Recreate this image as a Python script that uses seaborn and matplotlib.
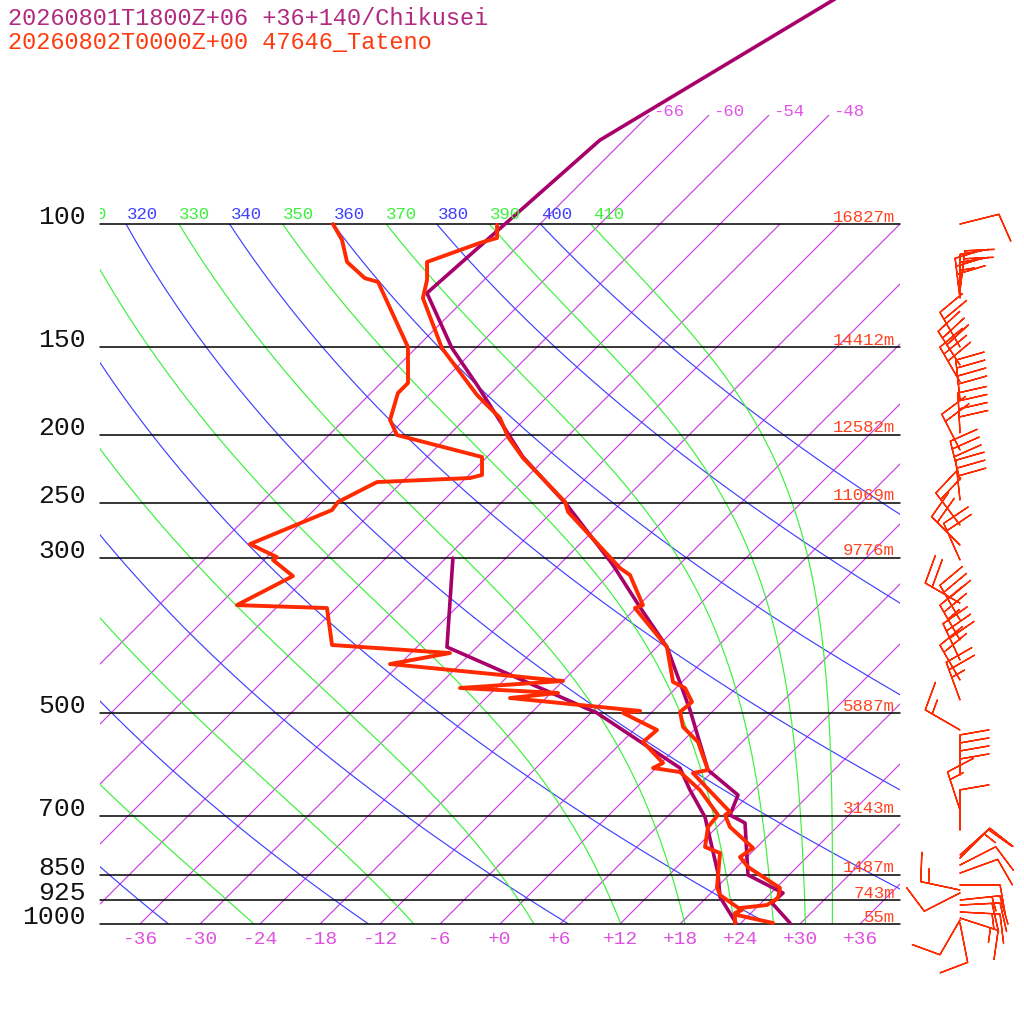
import numpy as np
import pandas as pd
import matplotlib
matplotlib.use("Agg")
import matplotlib.pyplot as plt
import seaborn as sns
from matplotlib.patches import Rectangle
from matplotlib.transforms import Bbox, TransformedBbox


# ── Sounding data (hPa, degC) ────────────────────────────────────────────────
chik_temp_p = [45.6, 75.9, 125.5, 150.4, 169.8, 198.2, 215.2, 252.0, 307.0, 352.6,
               402.1, 494.6, 602.6, 654.2, 698.7, 717.3, 851.1, 903.0, 933.3, 996.7]
chik_temp_t = [-58.1, -68.4, -70.4, -62.4, -56.2, -48.5, -44.4, -35.2, -24.6, -17.7,
               -11.0, -2.4, 5.4, 10.9, 12.1, 14.4, 19.9, 25.2, 25.1, 28.9]

chik_dewp_p = [300.1, 402.1, 499.5, 598.6, 643.6, 703.3, 845.7, 915.0, 996.7]
chik_dewp_t = [-41.3, -33.0, -11.4, 2.4, 5.6, 9.8, 16.7, 19.3, 23.5]

tate_temp_p = [100.3, 104.7, 106.4, 113.3, 120.2, 127.6, 150.4, 175.5, 189.3, 201.5,
               215.9, 249.5, 257.8, 310.1, 317.3, 350.3, 353.7, 402.1, 451.1, 460.1,
               481.8, 497.8, 523.0, 549.5, 602.6, 608.6, 639.3, 691.8, 698.7, 726.8,
               778.8, 802.2, 829.0, 888.3, 918.0, 939.5, 948.8, 970.8, 996.7]
tate_temp_t = [-70.2, -68.9, -70.1, -73.5, -71.7, -70.3, -63.4, -55.2, -50.6, -47.9,
               -44.3, -35.7, -34.4, -23.6, -21.9, -17.6, -18.1, -11.0, -6.9, -5.1,
               -3.0, -3.2, -1.4, 1.6, 5.4, 4.2, 7.1, 11.8, 11.6, 13.3,
               17.7, 17.3, 19.1, 24.4, 25.2, 24.8, 22.4, 22.8, 27.2]

tate_dewp_p = [100.0, 105.4, 113.3, 119.5, 121.0, 149.9, 168.7, 174.4, 190.5, 200.2,
               215.2, 228.3, 230.6, 233.7, 249.5, 256.2, 286.6, 299.1, 302.0, 318.4,
               350.3, 353.7, 399.4, 410.1, 425.2, 449.6, 460.1, 467.7, 475.5, 496.2,
               499.5, 528.2, 549.5, 588.8, 598.6, 606.6, 643.6, 698.7, 726.8, 776.2,
               791.7, 885.4, 909.0, 945.7, 955.0, 964.5, 996.7]
tate_dewp_t = [-86.7, -84.2, -81.5, -78.1, -76.4, -66.9, -63.3, -63.3, -61.4, -59.2,
               -48.5, -46.7, -47.6, -56.5, -58.4, -58.2, -63.0, -59.0, -59.1, -55.5,
               -58.2, -48.9, -44.7, -32.1, -37.0, -18.0, -27.6, -17.3, -21.6, -7.3,
               -8.8, -3.7, -3.9, 0.2, -0.3, 2.8, 6.6, 10.9, 11.1, 12.8,
               14.9, 18.0, 19.1, 22.0, 22.8, 22.4, 23.4]

# wind barbs (Tateno): pressure, direction (deg, from), speed (kt)
wind_p = [100.0, 124.5, 126.1, 127.6, 149.9, 159.0, 168.1, 178.4, 198.9, 210.3,
          232.2, 248.0, 269.2, 287.5, 302.0, 348.0, 367.9, 392.9, 419.7, 448.2,
          478.6, 528.2, 612.6, 687.5, 734.0, 797.0, 804.8, 823.6, 845.7, 879.6,
          894.2, 903.0, 924.1, 939.5, 961.3, 980.5, 986.9, 996.7]
wind_dir = [76, 7, 360, 353, 330, 327, 330, 354, 357, 333,
            346, 354, 323, 315, 336, 300, 330, 330, 335, 330,
            340, 300, 360, 342, 360, 48, 45, 63, 70, 90,
            282, 243, 84, 87, 93, 108, 210, 169]
wind_spd = [10, 20, 25, 30, 20, 30, 30, 40, 40, 20,
            30, 30, 20, 20, 20, 20, 30, 25, 30, 20,
            25, 15, 40, 15, 10, 15, 10, 10, 10, 10,
            15, 10, 15, 20, 15, 15, 10, 10]

# ── Diagram furniture ────────────────────────────────────────────────────────
isobars = [100, 150, 200, 250, 300, 500, 700, 850, 925, 1000]
heights = ["16827m", "14412m", "12582m", "11069m", "9776m",
           "5887m", "3143m", "1487m", "743m", "55m"]
isotherms = list(range(-66, 37, 6))
top_isotherms = [-66, -60, -54, -48]
bottom_ticks = list(range(-36, 37, 6))
dry_thetas = [240, 260, 280, 300, 320, 340, 360, 380, 400]
moist_thetas = [250, 270, 290, 310, 330, 350, 370, 390, 410]

SKEW = 70.0          # degC of x-shift per decade of pressure
X_LEFT, X_RIGHT = -40.0, 40.0
P_TOP_ISO = 69.85
CHAR_W = 1.04        # width of one 12.5pt mono character, in x units

C_CHIK = "#a8006a"
C_TATE = "#ff2a00"
C_ISO = "#cc3fe6"
C_ISO_TXT = "#e055e8"
C_DRY = "#4040ff"
C_MOIST = "#3cf03c"
C_HGT = "#ff4422"
MONO = ["Liberation Mono", "DejaVu Sans Mono"]


def skew(t, p):
    return np.asarray(t, float) + SKEW * np.log10(1000.0 / np.asarray(p, float))


def theta_e(tk, p):
    es = 6.112 * np.exp(17.67 * (tk - 273.15) / (tk - 29.65))
    r = 622.0 * es / (p - es)
    th = tk * (1000.0 / p) ** (0.2854 * (1 - 0.28e-3 * r))
    return th * np.exp((3.376 / tk - 0.00254) * r * (1 + 0.81e-3 * r))


sns.set_style("white")
plt.rcParams["font.family"] = MONO

fig = plt.figure(figsize=(10.24, 10.24), dpi=100)
ax = fig.add_axes([0, 0, 1, 1])
ax.set_yscale("log")

clip_iso = Rectangle((X_LEFT, P_TOP_ISO), X_RIGHT - X_LEFT, 1000 - P_TOP_ISO,
                     transform=ax.transData, fill=False, visible=False)
clip_adi = Rectangle((X_LEFT, 100), X_RIGHT - X_LEFT, 900,
                     transform=ax.transData, fill=False, visible=False)
ax.add_patch(clip_iso)
ax.add_patch(clip_adi)

# isotherms
for t in isotherms:
    ptop = P_TOP_ISO if t in top_isotherms else 100.0
    pp = np.array([1000.0, ptop])
    ln, = ax.plot(skew([t, t], pp), pp, color=C_ISO, lw=0.85)
    ln.set_clip_path(clip_iso)
    if t in top_isotherms:
        ax.text(skew(t, ptop) + 0.45, 70.1, f"{t:+d}", color=C_ISO_TXT,
                fontsize=12.5, ha="left", va="baseline")

# dry adiabats
p_line = np.logspace(3, 2, 400)
for th in dry_thetas:
    tc = th * (p_line / 1000.0) ** 0.2857 - 273.15
    ln, = ax.plot(skew(tc, p_line), p_line, color=C_DRY, lw=0.85)
    ln.set_clip_path(clip_adi)

# moist adiabats (pseudo-adiabats, labelled by theta-e)
tk_grid = np.linspace(150, 330, 4000)
moist_t = {th: [] for th in moist_thetas}
for p in p_line:
    te = theta_e(tk_grid, p)
    es = 6.112 * np.exp(17.67 * (tk_grid - 273.15) / (tk_grid - 29.65))
    ok = es < 0.3 * p
    for th in moist_thetas:
        moist_t[th].append(np.interp(th, te[ok], tk_grid[ok]) - 273.15)
for th in moist_thetas:
    ln, = ax.plot(skew(moist_t[th], p_line), p_line, color=C_MOIST, lw=0.85)
    ln.set_clip_path(clip_adi)

# adiabat labels along 100 hPa (characters left of the frame are cut off)
label_box = TransformedBbox(Bbox([[X_LEFT, 90], [X_RIGHT, 101]]), ax.transData)
for th in sorted(dry_thetas + moist_thetas):
    if th < 310:
        continue
    x100 = skew(th * 0.1 ** 0.2857 - 273.15, 100.0) + 0.1
    label = str(th)
    while label and x100 + CHAR_W < X_LEFT + 0.5:
        label = label[1:]
        x100 += CHAR_W
    col = C_DRY if th in dry_thetas else C_MOIST
    txt = ax.text(x100, 98.4, label, color=col, fontsize=12.5,
                  ha="left", va="baseline")
    txt.set_clip_box(label_box)
    txt.set_clip_on(True)

# isobars and labels
for p, h in zip(isobars, heights):
    ax.plot([X_LEFT, X_RIGHT], [p, p], color="black", lw=1.1)
    ax.text(-41.4, p, str(p), fontsize=19, ha="right", va="baseline", color="#111111")
    ax.text(39.5, p * 10 ** (-2.5 / 700), h, fontsize=12.5, ha="right",
            va="baseline", color=C_HGT)

for t in bottom_ticks:
    ax.text(t, 1068, f"{t:+d}", color="#e050e0", fontsize=14,
            ha="center", va="baseline")

# ── Soundings ────────────────────────────────────────────────────────────────
for p, t, col, lw in [
    (chik_temp_p, chik_temp_t, C_CHIK, 2.6),
    (chik_dewp_p, chik_dewp_t, C_CHIK, 2.6),
    (tate_temp_p, tate_temp_t, C_TATE, 2.8),
    (tate_dewp_p, tate_dewp_t, C_TATE, 2.8),
]:
    df = pd.DataFrame({"x": skew(t, p), "p": p})
    sns.lineplot(data=df, x="x", y="p", sort=False, estimator=None,
                 color=col, lw=lw, ax=ax)

# wind barbs
wd = np.deg2rad(np.array(wind_dir, float))
ws = np.array(wind_spd, float)
ax.barbs(np.full(len(wind_p), 46.0), wind_p, -ws * np.sin(wd), -ws * np.cos(wd),
         length=7.6, color=C_TATE, linewidth=1.0,
         sizes=dict(height=0.72, spacing=0.2))

ax.set_xlim(-50, 52.4)
ax.set_ylim(1389.5, 47.86)
ax.axis("off")

fig.text(8 / 1024, 1 - 25 / 1024, "20260801T1800Z+06 +36+140/Chikusei",
         color="#b02a80", fontsize=17, ha="left", va="baseline")
fig.text(8 / 1024, 1 - 49 / 1024, "20260802T0000Z+00 47646_Tateno",
         color="#ff3a10", fontsize=17, ha="left", va="baseline")

fig.savefig("out.png", dpi=100, facecolor="white")
